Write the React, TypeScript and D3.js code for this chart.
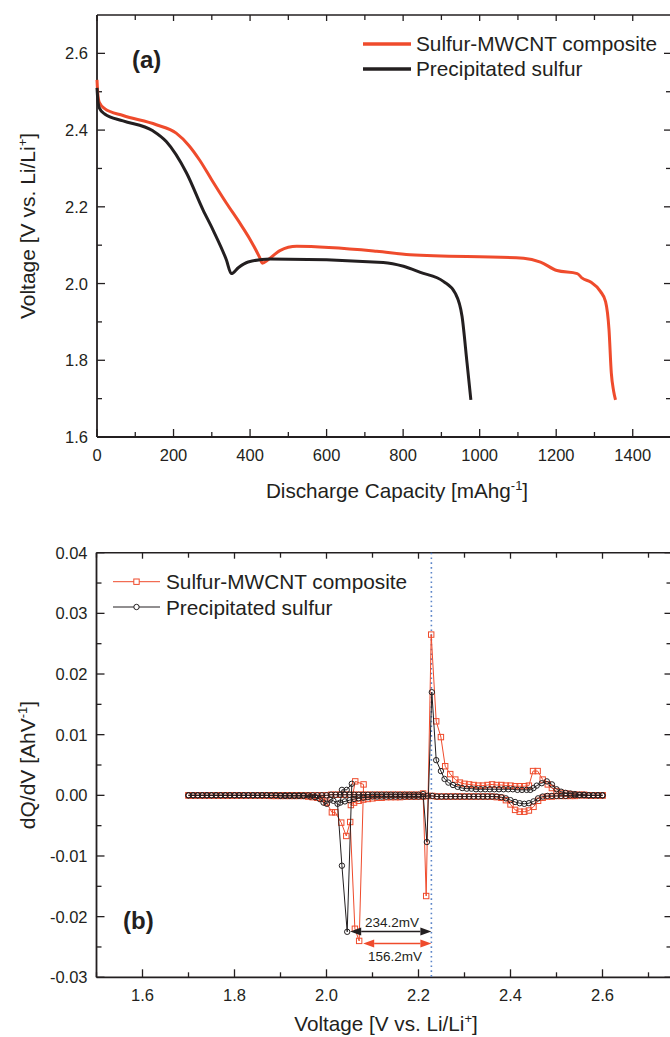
import React from 'react';
import * as d3 from 'd3';

const W = 670;
const H = 1037;
const FONT = '"Liberation Sans", Arial, sans-serif';
const RED = '#ef4b2c';
const INK = '#231f20';
const BLUE = '#5b84c8';

// ---- panel (a): discharge profiles, [capacity mAh/g, voltage V]
const capTicks = [0, 200, 400, 600, 800, 1000, 1200, 1400];
const capMinor = [100, 300, 500, 700, 900, 1100, 1300];
const voltTicks = [1.6, 1.8, 2.0, 2.2, 2.4, 2.6];
const voltMinor = [1.7, 1.9, 2.1, 2.3, 2.5];

const mwcntProfile: [number, number][] = [
  [0, 2.531], [2, 2.495], [6, 2.472], [20, 2.456], [68, 2.438], [155, 2.414],
  [207, 2.392], [240, 2.36], [268, 2.322], [300, 2.27], [338, 2.21], [373, 2.158],
  [400, 2.115], [425, 2.068], [432, 2.053], [447, 2.062], [478, 2.086], [522, 2.097],
  [731, 2.084], [818, 2.075], [1115, 2.066], [1159, 2.056], [1202, 2.034], [1255, 2.026],
  [1268, 2.014], [1290, 2.004], [1316, 1.979], [1329, 1.953], [1338, 1.88], [1344, 1.767],
  [1350, 1.72], [1355, 1.697],
];

const precProfile: [number, number][] = [
  [0, 2.51], [2, 2.48], [6, 2.458], [20, 2.442], [68, 2.424], [146, 2.398],
  [181, 2.37], [234, 2.288], [277, 2.192], [303, 2.14], [338, 2.062], [351, 2.026],
  [370, 2.042], [395, 2.056], [452, 2.064], [748, 2.055], [801, 2.045], [845, 2.029],
  [906, 2.005], [936, 1.975], [954, 1.914], [967, 1.793], [977, 1.697],
];

// ---- panel (b): differential capacity, [voltage V, dQ/dV AhV-1]
const vTicks = [1.6, 1.8, 2.0, 2.2, 2.4, 2.6];
const vMinor = [1.5, 1.7, 1.9, 2.1, 2.3, 2.5, 2.7];
const dqTicks = [-0.03, -0.02, -0.01, 0, 0.01, 0.02, 0.03, 0.04];
const dqMinor = [-0.025, -0.015, -0.005, 0.005, 0.015, 0.025, 0.035];

const mwcntDischarge: [number, number][] = [
  [2.60, 0], [2.59, 0], [2.58, 0], [2.57, 0], [2.56, 0], [2.55, 0], [2.54, -0.0001],
  [2.53, -0.0001], [2.52, -0.0001], [2.51, -0.0001], [2.50, -0.0001], [2.49, -0.0002],
  [2.48, -0.0002], [2.47, -0.0004], [2.46, -0.0009], [2.45, -0.0019], [2.44, -0.0025],
  [2.43, -0.0027], [2.42, -0.0027], [2.41, -0.0024], [2.40, -0.0015], [2.39, -0.0008],
  [2.38, -0.0004], [2.37, -0.0003], [2.36, -0.0002], [2.35, -0.0002], [2.34, -0.0002],
  [2.33, -0.0002], [2.32, -0.0002], [2.31, -0.0002], [2.30, -0.0002], [2.29, -0.0002],
  [2.28, -0.0002], [2.27, -0.0002], [2.26, -0.0002], [2.25, -0.0002], [2.24, -0.0002],
  [2.23, -0.0001], [2.22, -0.0001], [2.21, -0.0002], [2.20, -0.0002], [2.19, -0.0002],
  [2.18, -0.0002], [2.17, -0.0002], [2.16, -0.0003], [2.15, -0.0003], [2.14, -0.0003],
  [2.13, -0.0003], [2.12, -0.0004], [2.11, -0.0004], [2.10, -0.0005], [2.09, -0.0006],
  [2.08, -0.0007], [2.07, -0.0009], [2.06, -0.0012], [2.053, -0.0016], [2.0625, 0.0023],
  [2.0806, 0.0018], [2.071, -0.024], [2.0617, -0.022], [2.0515, -0.0044], [2.043, -0.0067],
  [2.032, -0.0045], [2.019, -0.0028], [2.0117, -0.0028], [2.00, -0.0012], [1.99, -0.0006],
  [1.98, -0.0004], [1.97, -0.0003], [1.96, -0.0002], [1.95, -0.0001], [1.94, -0.0001],
  [1.93, -0.0001], [1.92, -0.0001], [1.91, -0.0001], [1.90, -0.0001], [1.89, -0.0001],
  [1.88, -0.0001], [1.87, 0], [1.86, 0], [1.85, 0], [1.84, 0], [1.83, 0], [1.82, 0],
  [1.81, 0], [1.80, 0], [1.79, 0], [1.78, 0], [1.77, 0], [1.76, 0], [1.75, 0], [1.74, 0],
  [1.73, 0], [1.72, 0], [1.71, 0], [1.70, 0],
];

const mwcntCharge: [number, number][] = [
  [1.70, 0], [1.71, 0], [1.72, 0], [1.73, 0], [1.74, 0], [1.75, 0], [1.76, 0], [1.77, 0],
  [1.78, 0], [1.79, 0], [1.80, 0], [1.81, 0], [1.82, 0], [1.83, 0], [1.84, 0], [1.85, 0],
  [1.86, 0], [1.87, 0], [1.88, 0], [1.89, 0], [1.90, 0], [1.91, 0], [1.92, 0], [1.93, 0],
  [1.94, 0], [1.95, 0], [1.96, 0], [1.97, 0], [1.98, 0], [1.99, 0], [2.00, 0],
  [2.01, 0.0001], [2.02, 0.0001], [2.03, 0.0001], [2.04, 0.0001], [2.05, 0.0001],
  [2.06, 0.0001], [2.07, 0.0001], [2.08, 0.0001], [2.09, 0.0001], [2.10, 0.0001],
  [2.11, 0.0001], [2.12, 0.0001], [2.13, 0.0001], [2.14, 0.0001], [2.15, 0.0001],
  [2.16, 0.0001], [2.17, 0.0001], [2.18, 0.0001], [2.19, 0.0001], [2.20, 0.0001],
  [2.21, 0.0003], [2.2167, -0.0166], [2.2276, 0.0265], [2.2385, 0.0122], [2.2487, 0.0096],
  [2.258, 0.0048], [2.269, 0.0035], [2.28, 0.0026], [2.29, 0.0021], [2.30, 0.0019],
  [2.31, 0.0018], [2.32, 0.0017], [2.33, 0.0016], [2.34, 0.0016], [2.35, 0.0017],
  [2.36, 0.0018], [2.37, 0.0017], [2.38, 0.0017], [2.39, 0.0016], [2.40, 0.0016],
  [2.41, 0.0015], [2.42, 0.0015], [2.43, 0.0015], [2.44, 0.0016], [2.449, 0.004],
  [2.459, 0.004], [2.47, 0.0026], [2.481, 0.0018], [2.49, 0.0012], [2.50, 0.0007],
  [2.51, 0.0004], [2.52, 0.0003], [2.53, 0.0002], [2.54, 0.0001], [2.55, 0.0001],
  [2.56, 0.0001], [2.57, 0], [2.58, 0], [2.59, 0], [2.60, 0],
];

const precDischarge: [number, number][] = [
  [2.60, 0], [2.59, 0], [2.58, 0], [2.57, 0], [2.56, 0], [2.55, 0], [2.54, 0], [2.53, 0],
  [2.52, -0.0001], [2.51, -0.0001], [2.50, -0.0001], [2.49, -0.0001], [2.48, -0.0001],
  [2.47, -0.0002], [2.46, -0.0005], [2.45, -0.001], [2.44, -0.0013], [2.43, -0.0014],
  [2.42, -0.0013], [2.41, -0.0011], [2.40, -0.0008], [2.39, -0.0005], [2.38, -0.0003],
  [2.37, -0.0002], [2.36, -0.0002], [2.35, -0.0002], [2.34, -0.0002], [2.33, -0.0002],
  [2.32, -0.0002], [2.31, -0.0002], [2.30, -0.0002], [2.29, -0.0002], [2.28, -0.0002],
  [2.27, -0.0002], [2.26, -0.0002], [2.25, -0.0002], [2.24, -0.0002], [2.23, -0.0001],
  [2.22, -0.0001], [2.21, -0.0002], [2.20, -0.0002], [2.19, -0.0002], [2.18, -0.0002],
  [2.17, -0.0002], [2.16, -0.0002], [2.15, -0.0002], [2.14, -0.0002], [2.13, -0.0002],
  [2.12, -0.0002], [2.11, -0.0002], [2.10, -0.0002], [2.09, -0.0003], [2.08, -0.0004],
  [2.07, -0.0005], [2.06, -0.0006], [2.05, -0.0008], [2.04, -0.001], [2.03, -0.0012],
  [2.0335, 0.0009], [2.044, 0.0009], [2.055, 0.0019], [2.045, -0.0225], [2.0335, -0.0116],
  [2.024, -0.0014], [2.015, -0.0009], [2.008, -0.0007], [2.0008, -0.0014], [1.9935, -0.0012],
  [1.985, -0.0006], [1.975, -0.0003], [1.965, -0.0002], [1.95, -0.0001], [1.94, -0.0001],
  [1.93, -0.0001], [1.92, -0.0001], [1.91, -0.0001], [1.90, -0.0001], [1.89, 0], [1.88, 0],
  [1.87, 0], [1.86, 0], [1.85, 0], [1.84, 0], [1.83, 0], [1.82, 0], [1.81, 0], [1.80, 0],
  [1.79, 0], [1.78, 0], [1.77, 0], [1.76, 0], [1.75, 0], [1.74, 0], [1.73, 0], [1.72, 0],
  [1.71, 0], [1.70, 0],
];

const precCharge: [number, number][] = [
  [1.70, 0], [1.71, 0], [1.72, 0], [1.73, 0], [1.74, 0], [1.75, 0], [1.76, 0], [1.77, 0],
  [1.78, 0], [1.79, 0], [1.80, 0], [1.81, 0], [1.82, 0], [1.83, 0], [1.84, 0], [1.85, 0],
  [1.86, 0], [1.87, 0], [1.88, 0], [1.89, 0], [1.90, 0], [1.91, 0], [1.92, 0], [1.93, 0],
  [1.94, 0], [1.95, 0], [1.96, 0], [1.97, 0], [1.98, 0], [1.99, 0], [2.00, 0],
  [2.01, 0.0001], [2.02, 0.0001], [2.03, 0.0001], [2.04, 0.0001], [2.05, 0.0001],
  [2.06, 0.0001], [2.07, 0.0001], [2.08, 0.0001], [2.09, 0.0001], [2.10, 0.0001],
  [2.11, 0.0001], [2.12, 0.0001], [2.13, 0.0001], [2.14, 0.0001], [2.15, 0.0001],
  [2.16, 0.0001], [2.17, 0.0001], [2.18, 0.0001], [2.19, 0.0001], [2.20, 0.0001],
  [2.21, 0.0002], [2.2182, -0.0077], [2.229, 0.017], [2.2385, 0.0058], [2.2487, 0.004],
  [2.2566, 0.0027], [2.265, 0.0021], [2.275, 0.0017], [2.285, 0.0014], [2.295, 0.0012],
  [2.305, 0.0011], [2.315, 0.0011], [2.325, 0.001], [2.335, 0.001], [2.345, 0.001],
  [2.355, 0.001], [2.365, 0.001], [2.375, 0.001], [2.385, 0.001], [2.395, 0.001],
  [2.405, 0.001], [2.415, 0.0009], [2.425, 0.0009], [2.435, 0.0009], [2.443, 0.0009],
  [2.45, 0.0012], [2.457, 0.0016], [2.468, 0.002], [2.479, 0.0023], [2.49, 0.0018],
  [2.50, 0.001], [2.51, 0.0006], [2.52, 0.0004], [2.53, 0.0003], [2.54, 0.0002],
  [2.55, 0.0001], [2.56, 0.0001], [2.57, 0], [2.58, 0], [2.59, 0], [2.60, 0],
];

const peakVoltage = 2.228;
const precGap = { from: 2.045, label: '234.2mV' };
const mwcntGap = { from: 2.071, label: '156.2mV' };

type Scale = d3.ScaleLinear<number, number>;

function Frame({ x, y, xMajor, xMinor, yMajor, yMinor, xFmt, yFmt }: {
  x: Scale; y: Scale; xMajor: number[]; xMinor: number[]; yMajor: number[]; yMinor: number[];
  xFmt: (v: number) => string; yFmt: (v: number) => string;
}) {
  const [x0, x1] = x.range();
  const [yb, yt] = y.range();
  return (
    <g stroke={INK} fill="none">
      <line x1={x0} x2={x1} y1={yt} y2={yt} strokeWidth={1.5} />
      <line x1={x0} x2={x1} y1={yb} y2={yb} strokeWidth={1.8} />
      <line x1={x0} x2={x0} y1={yt} y2={yb} strokeWidth={1.8} />
      <line x1={x1} x2={x1} y1={yt} y2={yb} strokeWidth={1.5} />
      {xMajor.map(t => (
        <g key={'xM' + t}>
          <line x1={x(t)} x2={x(t)} y1={yb} y2={yb - 8} strokeWidth={1.3} />
          <line x1={x(t)} x2={x(t)} y1={yt} y2={yt + 6} strokeWidth={1.3} />
          <text x={x(t)} y={yb + 24} textAnchor="middle" stroke="none" fill={INK}
            fontSize={16.5} fontFamily={FONT}>{xFmt(t)}</text>
        </g>
      ))}
      {xMinor.map(t => (
        <g key={'xm' + t}>
          <line x1={x(t)} x2={x(t)} y1={yb} y2={yb - 5} strokeWidth={1.3} />
          <line x1={x(t)} x2={x(t)} y1={yt} y2={yt + 5} strokeWidth={1.3} />
        </g>
      ))}
      {yMajor.map(t => (
        <g key={'yM' + t}>
          <line x1={x0} x2={x0 + 8} y1={y(t)} y2={y(t)} strokeWidth={1.3} />
          <line x1={x1} x2={x1 - 7} y1={y(t)} y2={y(t)} strokeWidth={1.3} />
          <text x={x0 - 9} y={y(t) + 6} textAnchor="end" stroke="none" fill={INK}
            fontSize={16.5} fontFamily={FONT}>{yFmt(t)}</text>
        </g>
      ))}
      {yMinor.map(t => (
        <g key={'ym' + t}>
          <line x1={x0} x2={x0 + 5} y1={y(t)} y2={y(t)} strokeWidth={1.3} />
          <line x1={x1} x2={x1 - 5} y1={y(t)} y2={y(t)} strokeWidth={1.3} />
        </g>
      ))}
    </g>
  );
}

function Arrow({ x1, x2, y, color }: { x1: number; x2: number; y: number; color: string }) {
  const hw = 4, hl = 11;
  return (
    <g fill={color} stroke={color}>
      <line x1={x1 + hl} x2={x2 - hl} y1={y} y2={y} strokeWidth={1.6} />
      <path d={`M${x1},${y}L${x1 + hl},${y - hw}L${x1 + hl},${y + hw}Z`} stroke="none" />
      <path d={`M${x2},${y}L${x2 - hl},${y - hw}L${x2 - hl},${y + hw}Z`} stroke="none" />
    </g>
  );
}

export default function App() {
  // panel (a)
  const xa = d3.scaleLinear().domain([0, 1500]).range([97, 671]);
  const ya = d3.scaleLinear().domain([1.6, 2.7]).range([437, 15]);
  const lineA = d3.line<[number, number]>().x(d => xa(d[0])).y(d => ya(d[1])).curve(d3.curveMonotoneX);

  // panel (b)
  const xb = d3.scaleLinear().domain([1.5, 2.75]).range([96.5, 671.5]);
  const yb = d3.scaleLinear().domain([-0.03, 0.04]).range([977.3, 552.7]);
  const lineB = d3.line<[number, number]>().x(d => xb(d[0])).y(d => yb(d[1]));

  const mwcntB = [...mwcntDischarge, ...mwcntCharge];
  const precB = [...precDischarge, ...precCharge];

  const fmtCap = (v: number) => String(v);
  const fmtV = (v: number) => v.toFixed(1);
  const fmtDq = (v: number) => v.toFixed(2);

  const sq = 5.4;

  return (
    <svg width={W} height={H} style={{ position: 'absolute', left: 0, top: 0, background: '#fff' }}
      fontFamily={FONT}>
      <rect width={W} height={H} fill="#fff" />

      {/* ---------- (a) ---------- */}
      <Frame x={xa} y={ya} xMajor={capTicks} xMinor={capMinor} yMajor={voltTicks} yMinor={voltMinor}
        xFmt={fmtCap} yFmt={fmtV} />
      <path d={lineA(mwcntProfile) || ''} fill="none" stroke={RED} strokeWidth={3} strokeLinejoin="round" />
      <path d={lineA(precProfile) || ''} fill="none" stroke={INK} strokeWidth={3} strokeLinejoin="round" />

      <text x={132} y={68} fontSize={24} fontWeight="bold" fill={INK}>(a)</text>

      <g>
        <line x1={363} x2={411} y1={44} y2={44} stroke={RED} strokeWidth={3.5} />
        <text x={416} y={51} fontSize={20.8} fill={INK}>Sulfur-MWCNT composite</text>
        <line x1={363} x2={411} y1={69} y2={69} stroke={INK} strokeWidth={3.5} />
        <text x={416} y={76} fontSize={20.8} fill={INK}>Precipitated sulfur</text>
      </g>

      <text transform="translate(35,226) rotate(-90)" textAnchor="middle" fontSize={21} fill={INK}>
        Voltage [V vs. Li/Li<tspan dy={-8} fontSize={13}>+</tspan><tspan dy={8}>]</tspan>
      </text>
      <text x={397} y={498} textAnchor="middle" fontSize={20.7} fill={INK}>
        Discharge Capacity [mAhg<tspan dy={-8} fontSize={13}>-1</tspan><tspan dy={8}>]</tspan>
      </text>

      {/* ---------- (b) ---------- */}
      <Frame x={xb} y={yb} xMajor={vTicks} xMinor={vMinor} yMajor={dqTicks} yMinor={dqMinor}
        xFmt={fmtV} yFmt={fmtDq} />

      <line x1={xb(peakVoltage)} x2={xb(peakVoltage)} y1={yb(0.04)} y2={yb(-0.03)}
        stroke={BLUE} strokeWidth={1.6} strokeDasharray="1.6,3.2" />

      <path d={lineB(mwcntB) || ''} fill="none" stroke={RED} strokeWidth={1} />
      {mwcntB.map((d, i) => (
        <rect key={'s' + i} x={xb(d[0]) - sq / 2} y={yb(d[1]) - sq / 2} width={sq} height={sq}
          fill="none" stroke={RED} strokeWidth={1} />
      ))}
      <path d={lineB(precB) || ''} fill="none" stroke={INK} strokeWidth={1} />
      {precB.map((d, i) => (
        <circle key={'c' + i} cx={xb(d[0])} cy={yb(d[1])} r={2.7} fill="none" stroke={INK} strokeWidth={1} />
      ))}

      <Arrow x1={xb(precGap.from) + 3} x2={xb(peakVoltage)} y={931.5} color={INK} />
      <text x={392} y={927} textAnchor="middle" fontSize={13.5} fill={INK}>{precGap.label}</text>
      <Arrow x1={xb(mwcntGap.from) + 4} x2={xb(peakVoltage)} y={943.5} color={RED} />
      <text x={395} y={961} textAnchor="middle" fontSize={13.5} fill={INK}>{mwcntGap.label}</text>

      <text x={123} y={929} fontSize={24} fontWeight="bold" fill={INK}>(b)</text>

      <g>
        <line x1={113} x2={160} y1={581.7} y2={581.7} stroke={RED} strokeWidth={1} />
        <rect x={136.5 - sq / 2} y={581.7 - sq / 2} width={sq} height={sq} fill="#fff" stroke={RED} strokeWidth={1} />
        <text x={166} y={589} fontSize={20.8} fill={INK}>Sulfur-MWCNT composite</text>
        <line x1={113} x2={160} y1={607} y2={607} stroke={INK} strokeWidth={1} />
        <circle cx={136.5} cy={607} r={2.7} fill="#fff" stroke={INK} strokeWidth={1} />
        <text x={166} y={614.5} fontSize={20.8} fill={INK}>Precipitated sulfur</text>
      </g>

      <text transform="translate(35,765) rotate(-90)" textAnchor="middle" fontSize={21} fill={INK}>
        dQ/dV [AhV<tspan dy={-8} fontSize={13}>-1</tspan><tspan dy={8}>]</tspan>
      </text>
      <text x={386} y={1031} textAnchor="middle" fontSize={20.7} fill={INK}>
        Voltage [V vs. Li/Li<tspan dy={-8} fontSize={13}>+</tspan><tspan dy={8}>]</tspan>
      </text>
    </svg>
  );
}
